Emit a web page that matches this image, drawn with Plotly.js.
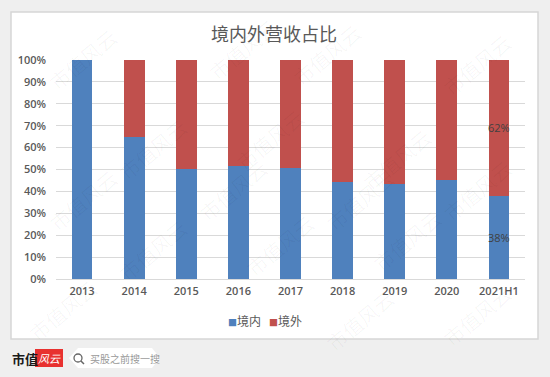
<!DOCTYPE html>
<html>
<head>
<meta charset="utf-8">
<script src="https://cdn.plot.ly/plotly-3.0.1.min.js"></script>
<style>
html,body{margin:0;padding:0;background:#efefef;}
#chart{width:550px;height:377px;}
</style>
</head>
<body>
<div id="chart"></div>
<script>
const categories = ['2013','2014','2015','2016','2017','2018','2019','2020','2021H1'];
const domestic = [100, 65.0, 50.3, 51.4, 50.9, 44.5, 43.5, 45.4, 38];
const overseas = [0, 35.0, 49.7, 48.6, 49.1, 55.5, 56.5, 54.6, 62];
const domesticLabels = ['', '', '', '', '', '', '', '', '38%'];
const overseasLabels = ['', '', '', '', '', '', '', '', '62%'];
const seriesNames = ['境内', '境外'];
const seriesColors = ['#4f81bd', '#c0504d'];

// plot area in px: x 56..525, y 60..279
const L = 56, R = 525, T = 60, B = 279;
const px = x => (x - L) / (R - L);
const py = y => (B - y) / (B - T);

const cjk = '"Noto Sans CJK SC", "Noto Sans", sans-serif';
const lat = '"Open Sans", "Noto Sans", sans-serif';

const traces = [
  {type: 'bar', name: seriesNames[0], x: categories, y: domestic,
   marker: {color: seriesColors[0]}, hoverinfo: 'x+y', showlegend: false},
  {type: 'bar', name: seriesNames[1], x: categories, y: overseas,
   marker: {color: seriesColors[1]}, hoverinfo: 'x+y', showlegend: false}
];

// data labels centred in their segments, from the data arrays
const labelAnn = [];
categories.forEach((c, i) => {
  if (domesticLabels[i]) labelAnn.push({x: c, y: domestic[i] / 2, xref: 'x', yref: 'y',
    text: domesticLabels[i], showarrow: false, font: {family: lat, size: 11, color: '#404040'}});
  if (overseasLabels[i]) labelAnn.push({x: c, y: domestic[i] + overseas[i] / 2, xref: 'x', yref: 'y',
    text: overseasLabels[i], showarrow: false, font: {family: lat, size: 11, color: '#404040'}});
});

// watermark annotations
const wm = [];
const wmPos = [[40,20],[200,10],[370,15],[520,25],[110,110],[270,100],[440,120],
               [40,200],[190,190],[360,200],[520,190],[110,290],[280,285],[450,280],[20,350],[360,360],[520,355]];
wmPos.forEach(p => wm.push({
  xref: 'paper', yref: 'paper', x: px(p[0]), y: py(p[1]),
  text: '市值风云', showarrow: false, textangle: -40,
  font: {family: cjk, size: 20, color: 'rgba(0,0,0,0.035)'}
}));

const legendAnn = {
  xref: 'paper', yref: 'paper', x: px(265), y: py(320), xanchor: 'center', yanchor: 'middle',
  showarrow: false,
  text: '<span style="color:' + seriesColors[0] + ';font-size:9px">■</span>' + seriesNames[0] +
        '   <span style="color:' + seriesColors[1] + ';font-size:9px">■</span>' + seriesNames[1],
  font: {family: cjk, size: 12, color: '#595959'}
};

const layout = {
  width: 550, height: 377,
  paper_bgcolor: '#efefef', plot_bgcolor: 'rgba(0,0,0,0)',
  margin: {l: L, r: 550 - R, t: T, b: 377 - B},
  barmode: 'stack', bargap: 0.6,
  title: {
    text: '境内外营收占比', xref: 'container', yref: 'container',
    x: 0.498, y: 1 - 35 / 377, xanchor: 'center', yanchor: 'middle',
    font: {family: cjk, size: 18, color: '#595959'}
  },
  xaxis: {
    type: 'category', range: [-0.5, 8.5],
    showgrid: false, showline: false, zeroline: false, ticks: '',
    tickfont: {family: lat, size: 11, color: '#595959', weight: 600},
    ticklabelstandoff: 4, fixedrange: true
  },
  yaxis: {
    range: [0, 100], dtick: 10, ticksuffix: '%',
    showgrid: true, gridcolor: '#d9d9d9', gridwidth: 1,
    zeroline: true, zerolinecolor: '#d9d9d9', zerolinewidth: 1,
    showline: false, ticks: '',
    tickfont: {family: lat, size: 11, color: '#595959', weight: 600},
    ticklabelstandoff: 9, fixedrange: true
  },
  showlegend: false,
  shapes: [
    {type: 'rect', xref: 'paper', yref: 'paper', layer: 'below',
     x0: px(11), x1: px(538), y0: py(339), y1: py(12),
     fillcolor: '#ffffff', line: {color: '#d6d6d6', width: 1.5}},
    {type: 'rect', xref: 'paper', yref: 'paper', layer: 'above',
     x0: px(35), x1: px(63), y0: py(367), y1: py(349),
     fillcolor: '#e8312f', line: {width: 0}},
    {type: 'path', xref: 'paper', yref: 'paper', layer: 'above',
     path: 'M ' + px(78) + ' ' + py(348) + ' L ' + px(152) + ' ' + py(348) +
           ' L ' + px(160) + ' ' + py(358) + ' L ' + px(152) + ' ' + py(368) +
           ' L ' + px(78) + ' ' + py(368) + ' L ' + px(69) + ' ' + py(358) + ' Z',
     fillcolor: '#ffffff', line: {color: '#ffffff', width: 0}},
    {type: 'circle', xref: 'paper', yref: 'paper', layer: 'above',
     x0: px(74), x1: px(82), y0: py(362), y1: py(354),
     fillcolor: 'rgba(0,0,0,0)', line: {color: '#666', width: 1.3}},
    {type: 'line', xref: 'paper', yref: 'paper', layer: 'above',
     x0: px(81), x1: px(84), y0: py(361), y1: py(364),
     line: {color: '#666', width: 1.5}}
  ],
  annotations: wm.concat(labelAnn, [legendAnn,
    {xref: 'paper', yref: 'paper', x: px(10), y: py(358), xanchor: 'left', yanchor: 'middle',
     text: '<b>市值</b>', showarrow: false, font: {family: cjk, size: 13, color: '#1a1a1a'}},
    {xref: 'paper', yref: 'paper', x: px(49), y: py(358), xanchor: 'center', yanchor: 'middle',
     text: '<i>风云</i>', showarrow: false, font: {family: cjk, size: 11, color: '#ffffff'}},
    {xref: 'paper', yref: 'paper', x: px(88), y: py(358), xanchor: 'left', yanchor: 'middle',
     text: '买股之前搜一搜', showarrow: false, font: {family: cjk, size: 10, color: '#999999'}}
  ])
};

Plotly.newPlot('chart', traces, layout, {displayModeBar: false, staticPlot: true});
</script>
</body>
</html>
